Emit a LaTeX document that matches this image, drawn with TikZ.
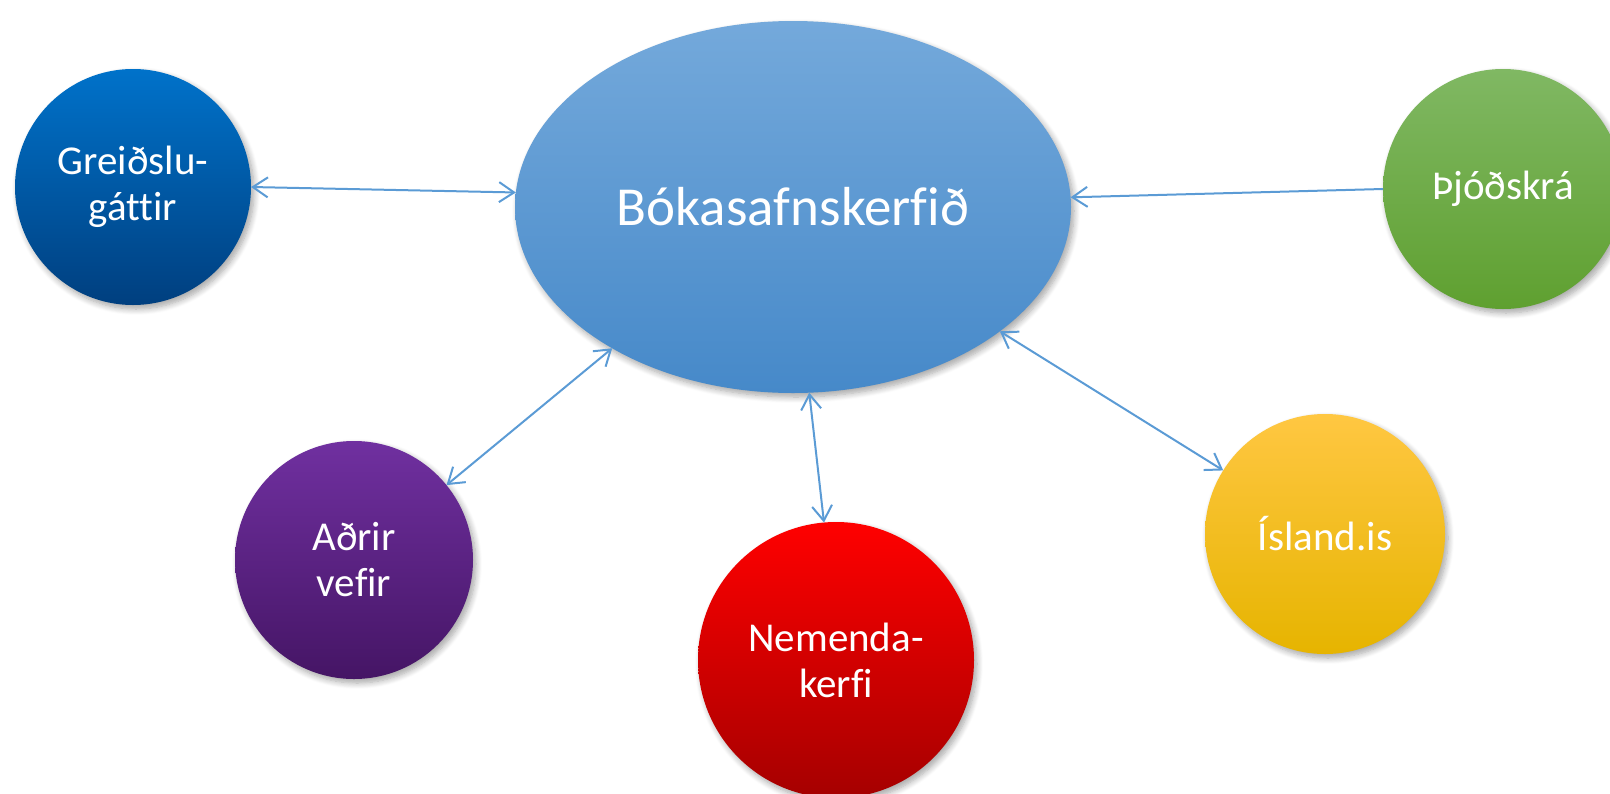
\documentclass[tikz,border=0pt]{standalone}
\usepackage{fontspec}
\setmainfont{Carlito}[Ligatures={NoCommon}]
\usetikzlibrary{shapes.geometric,arrows.meta,shadows.blur}
\definecolor{arr}{HTML}{5B9BD5}
\definecolor{gTop}{HTML}{0072CA}\definecolor{gBot}{HTML}{003F7F}
\definecolor{mTop}{HTML}{74A9DB}\definecolor{mBot}{HTML}{4689C9}
\definecolor{tTop}{HTML}{80B863}\definecolor{tBot}{HTML}{5FA030}
\definecolor{aTop}{HTML}{7030A0}\definecolor{aBot}{HTML}{451565}
\definecolor{nTop}{HTML}{FF0000}\definecolor{nBot}{HTML}{A50000}
\definecolor{iTop}{HTML}{FFC742}\definecolor{iBot}{HTML}{E6B400}
\begin{document}
\begin{tikzpicture}[x=1pt,y=-1pt,
  shad/.style={blur shadow={shadow xshift=3pt,shadow yshift=-4pt,shadow blur steps=8,shadow opacity=35,shadow blur radius=6pt}},
  bub/.style={circle,inner sep=0pt,outer sep=0pt,minimum size=#1,text=white,
    font=\fontsize{41}{46}\selectfont,align=center,shad},
  linkline/.style={draw=arr,line width=2pt},
  link/.style={linkline,{Straight Barb[length=15pt,width=20pt]}-{Straight Barb[length=15pt,width=20pt]}},
  onelink/.style={linkline,-{Straight Barb[length=15pt,width=20pt]}}]
\useasboundingbox (0,0) rectangle (1610,793);
\clip (0,0) rectangle (1610,793);
\node[bub=236pt,top color=gTop,bottom color=gBot] (g) at (133,187) {Greiðslu-\\gáttir};
\node[bub=240pt,top color=tTop,bottom color=tBot] (t) at (1503,189) {Þjóðskrá};
\node[bub=238pt,top color=aTop,bottom color=aBot] (a) at (354,560) {Aðrir\\vefir};
\node[bub=276pt,top color=nTop,bottom color=nBot] (n) at (836,660) {Nemenda-\\kerfi};
\node[bub=240pt,top color=iTop,bottom color=iBot] (i) at (1325,534) {Ísland.is};
\node[ellipse,inner sep=0pt,outer sep=0pt,minimum width=556pt,minimum height=372pt,
  top color=mTop,bottom color=mBot,text=white,font=\fontsize{55}{60}\selectfont,shad] (m) at (793,207) {Bókasafnskerfið};
\draw[link] (g.0) -- (m.177);
\draw[onelink] (t.180) -- (m.2);
\draw[link] (a.39) -- (m.218);
\draw[link] (m.275) -- (n.95);
\draw[link] (m.329) -- (i.148);
\end{tikzpicture}
\end{document}
